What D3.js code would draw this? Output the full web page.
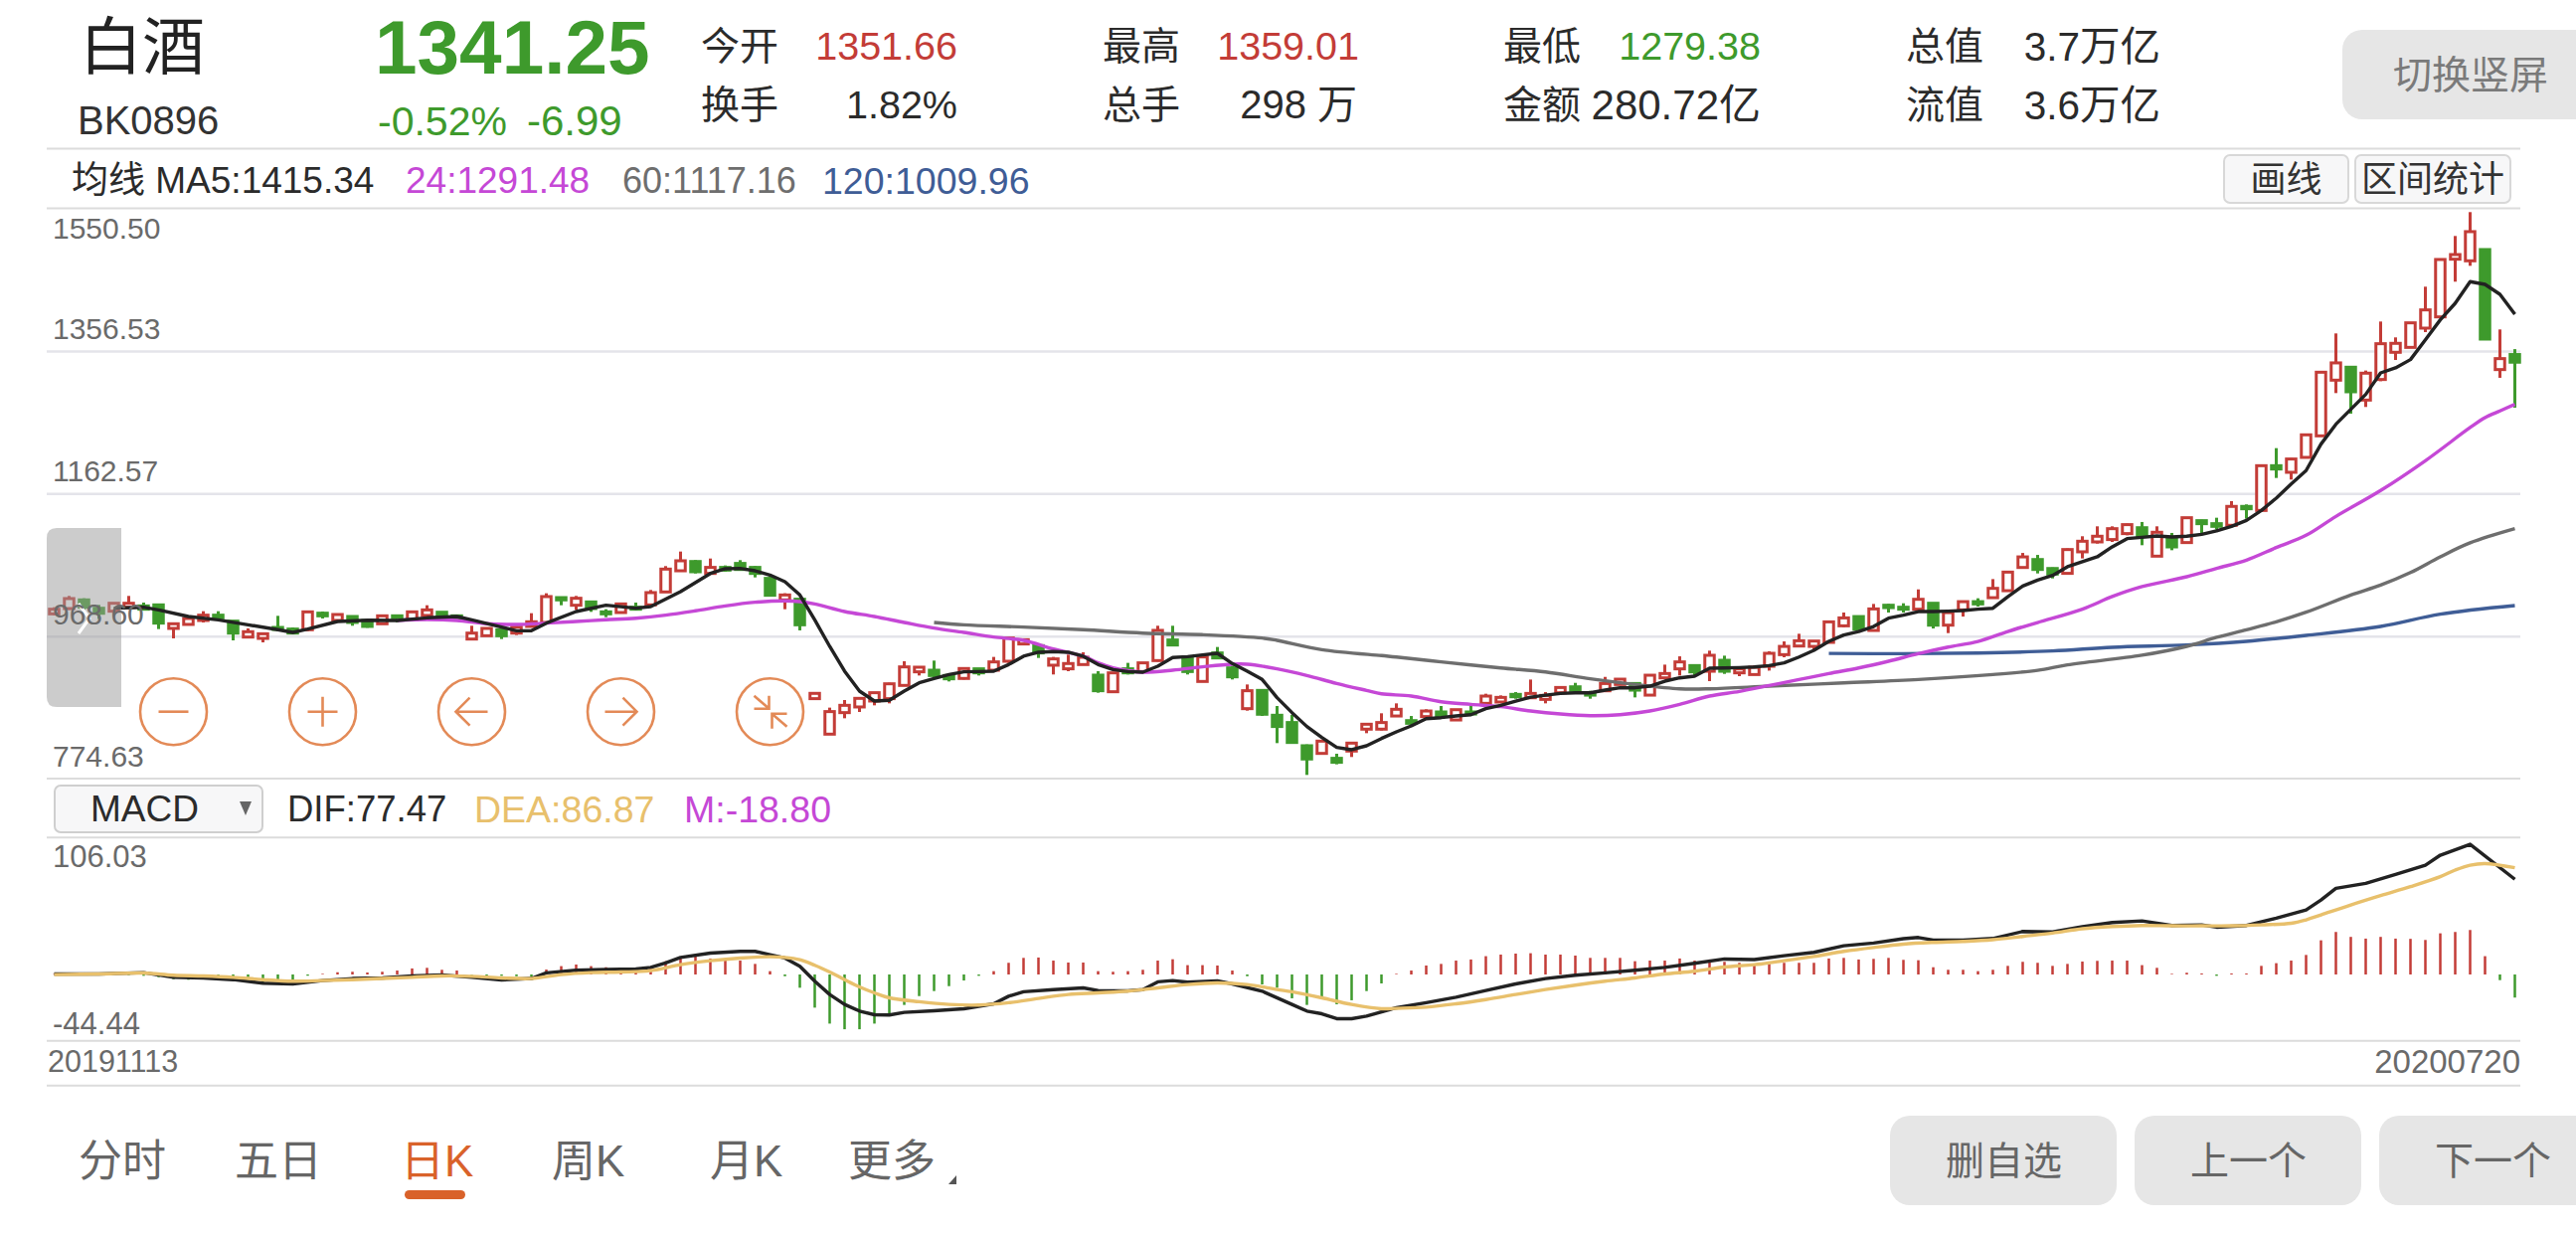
<!DOCTYPE html>
<html>
<head>
<meta charset="utf-8">
<script src="https://cdn.jsdelivr.net/npm/d3@7"></script>
<style>
  html, body { margin: 0; padding: 0; background: #fff; overflow: hidden; }
  text { font-family: "Liberation Sans", "Noto Sans CJK SC", sans-serif; }
</style>
</head>
<body>
<script>
// daily candles 20191113 - 20200720
const opens = [998.8,1006,1017.8,1006.4,1002.4,1007.8,1009.6,1011,979,984.4,989.8,997,988.9,967.2,965.4,980.3,978.1,977.2,999.7,989.8,995.2,989.8,985.3,996.1,990.7,996.6,1001,996.1,964.5,969,977.2,972.6,981.7,987.1,1020.9,1010.5,1015,1001.5,1000.6,1007.8,1011,1028.6,1057.4,1070,1053.8,1062,1067.4,1062,1047.1,1017.8,1018.7,883.4,835.1,864.4,872.1,880.2,883.4,901.4,919.9,922.1,914.9,910.9,924,922.1,934.3,957.8,955.5,928.9,924,929.8,915.4,892.8,924,920.3,935.2,963.2,939.3,906.8,945.6,925.3,869.8,894.6,860.8,850.9,819.3,808.9,802.2,812.1,841.9,841.9,859.8,853.5,859,865.3,854.4,865.3,877,878.8,889.2,884.6,882.4,891.4,899.5,890.5,894.1,902.7,904,888.2,911.7,923.9,928.4,920.7,935.6,918.5,916.2,927.5,943.3,955,954.5,960,982.5,995.1,976.2,1010.5,1007.8,1005.1,1013.2,983.4,1004.2,1015.4,1020.8,1030.3,1061.9,1072.7,1060.5,1053.9,1083.2,1096.7,1099.9,1108,1116,1077.3,1102.6,1095.8,1125.6,1121.5,1119.3,1145,1139.5,1200.4,1191.4,1211.7,1241,1316.8,1334.4,1289.7,1317.7,1354.7,1361.4,1387.6,1402.9,1481.4,1479.2,1494.5,1331.2,1351.66];
const closes = [1005.1,1019.6,1007.8,999.6,1013.2,1013.2,1005.1,986.2,985.3,992.5,997,993.4,972.6,974.5,971.7,977.6,972.6,1001.5,996.1,997.9,987.1,981.7,996.1,993.4,1001.5,1004.2,994.3,992.5,972.6,979,969,980.8,988,1022.3,1017.8,1020,1006,998.8,1012.3,1005.1,1027.7,1059.7,1071,1056.1,1062,1058.3,1059.2,1053.8,1024.1,1024.5,983.9,890.6,865.8,874.3,883.8,891.5,903.6,926.6,926.2,914.9,910.4,924.4,918.5,933.4,965.9,963.6,945.6,937.5,931.2,939.7,894.2,918.5,918.5,932.1,976.3,956.4,920.3,940.2,938.8,913.1,894.2,862.2,845.5,823.8,801.3,825.6,796.8,822.9,848.6,850.9,868.9,849.9,866.6,859.8,868.4,862.5,886.9,885.1,886,890.5,887.8,898.6,894.6,888.2,904,909.9,895,915.3,917.6,933.4,919.8,942.4,920.7,923.9,926.1,945.1,954.5,962.2,961.8,987.9,993.3,978,1005.5,1007.3,1005.1,1018.6,983.4,1000.5,1015.4,1012.3,1033.5,1055.6,1076.3,1059.2,1052.9,1086.3,1097.6,1104.4,1114.7,1120.2,1104.4,1109.8,1089.9,1129.6,1121.5,1117.9,1145,1141.8,1200.4,1195.9,1209.5,1242.4,1327.6,1340.3,1301,1326.3,1366.4,1366.9,1394.8,1412.4,1481,1487.7,1518.9,1372.7,1346.1,1341.25];
const highs = [1007.8,1023.2,1020,1011,1014.1,1023.2,1014.1,1012.3,985.3,994.3,1002.4,1002.4,989.8,979,972.6,996.1,980.3,1002.4,1002,997.9,996.1,990.7,997,997,1002.4,1010.5,1002,997,982.6,979.9,979.9,982.6,999.7,1026.8,1021.4,1023.2,1015.9,1005.1,1013.2,1014.1,1031.3,1063.8,1083.6,1071.9,1074.1,1064.7,1071.9,1063.8,1050.2,1026.8,1020,890.6,871.2,881.5,885.6,892.4,905,934.3,926.2,935.2,916.7,925.3,924.9,940.2,967.2,963.6,956.9,940.2,943.3,946.5,920.8,919.4,932.1,933,982.6,982.6,941.1,942,953.7,928.4,902.7,896,873.4,861.2,821.1,826.5,808.5,823.8,849.1,863.5,877,859.8,868.9,873.4,869.3,874.3,890.1,887.8,892.3,909.4,892.3,899.1,904.9,894.1,913,910.8,905.8,916.2,929.7,941,929.3,948.7,941.9,924.8,928.8,947.8,961.3,971.7,962.7,988.8,1000.6,996.5,1012.3,1012.3,1013.2,1032.1,1014.1,1001.4,1016.3,1020,1046.1,1056.5,1081.7,1079,1061.9,1087.7,1104.4,1117.9,1117.9,1121.5,1123.8,1117.9,1108.9,1130.5,1126.9,1129.6,1152.2,1147.7,1201.3,1224.3,1210.8,1243.3,1328.5,1380.4,1335.3,1329.9,1396.6,1375,1395.7,1444,1481.9,1513,1545.5,1495,1385.8,1359.01];
const lows = [997,1004.2,1004.2,992,1001.5,1006.5,1003.3,978.1,965.4,983.5,987.1,989.8,962.7,966.3,960,974.9,970.9,975.4,992.5,988.9,982.6,979.9,984.4,987.1,989.8,996.1,992.5,990.7,964.5,968.1,964.5,970,980.8,986.2,1010.5,1004.2,1001.5,994.3,999.3,1004.2,1009.6,1027.7,1056.1,1053.8,1052.9,1056.1,1058.3,1048.4,1023.2,1005.1,976.3,883.4,834.2,856.7,865.3,874.3,877,900.5,914.9,910.4,906.8,909.5,914.9,920.8,932.1,957.3,938.8,916.3,920.8,928.9,891.5,891.9,916.3,918.5,933.9,955.5,916.3,905.9,937.5,909.5,867.1,859.9,822.9,822.9,779.6,808,794.1,804,836.4,840.1,858.9,846.3,856.2,857.1,853.1,859.8,875.6,877.9,883.3,883.7,877,890.5,893.7,883.3,893.2,902.2,885.1,887.3,910.8,914.9,915.3,907.2,917.1,914,915.3,921.6,939.7,954.5,949.1,959.1,980.7,976.2,975.3,1000.6,1000.6,1004.2,978.9,972.6,995.1,1008.7,1020,1029.4,1061,1053.8,1047,1053,1074.2,1094.4,1096.7,1105.7,1092.2,1076.4,1085.4,1094.9,1108,1113.4,1117.9,1128.3,1138.6,1183.7,1181.5,1210.8,1240.1,1299.2,1271.2,1280.3,1315.4,1344.3,1360.5,1382.2,1402,1450.8,1472.4,1371.8,1320,1279.38];

// moving averages: day index + value pairs
const ma5Days = [4,6,7,9,11,13,15,16,17,19,21,23,25,27,28,30,31,32,33,35,37,39,40,42,44,45,46,47,48,49,50,51,52,53,54,55,56,57,58,59,60,61,62,63,64,65,66,67,68,69,70,71,72,73,74,75,76,77,78,79,80,81,82,83,84,85,86,87,88,89,90,91,92,93,94,95,96,97,98,99,100,101,102,103,104,105,106,107,108,109,110,111,112,113,114,115,116,117,118,119,120,121,122,123,124,125,126,127,128,129,130,131,132,133,134,135,137,138,139,140,141,142,143,144,145,146,147,148,149,150,151,152,153,154,155,156,157,158,159,160,161,162,163,164,165];
const ma5 = [1006.5,1007.8,1004.2,995.2,990.7,983.9,977.2,973.5,978.1,988.4,990.2,989.8,993.4,995.2,990.7,980.8,975.8,975.8,986.2,1002,1010.5,1006.5,1008.7,1029,1053.8,1060.2,1060.6,1057.4,1051.6,1042.6,1024.5,990.7,954.6,920.8,893.7,880.2,881.1,893.7,905,910.9,916.3,919.9,920.3,920.8,929.8,941.1,946.5,947.4,946.5,941.1,929.8,923,920.3,919.4,927.5,939.3,940.6,942.9,945.1,931.2,920.8,909.5,884.7,864.4,845.5,830.6,817.1,813.9,819.3,829.2,838.2,846.3,856.2,857.6,859.8,861.6,869.8,874.3,880.1,885.5,888.2,890.5,891.4,891.4,895,898.2,898.2,900.4,907.2,911.7,914,924.8,925.2,925.7,926.6,928.4,932,940.1,949.1,961.3,969.9,974.8,981.6,992.9,997,1001.9,1001.9,1002.4,1003.3,1005.1,1006.4,1022.2,1036.6,1044.8,1051.1,1062.9,1076.4,1090,1101.2,1103,1104.8,1103.5,1104.4,1107,1111.6,1117.9,1126,1139.5,1156.2,1175.6,1193.7,1229.8,1256.8,1277.1,1297.4,1326.7,1333.5,1344.8,1371.8,1398.9,1421.4,1450.8,1447.1,1433.6,1406.5];
const ma24Days = [23,25,27,29,31,33,35,37,39,41,43,45,47,49,50,51,53,55,57,59,61,63,65,67,69,70,71,72,73,75,77,79,80,82,84,86,88,89,91,93,95,97,99,101,103,105,107,109,111,113,115,117,119,121,123,125,127,129,131,133,136,138,140,143,145,147,149,151,153,156,159,162,163,164,165];
const ma24 = [989.8,991.1,989.8,985.3,984.4,986.2,988.4,990.7,992.9,997,1002.9,1009.6,1014.6,1016.4,1015.5,1012.3,1002,995.2,987.1,979.4,973.5,967.2,962.7,951,941.1,932.1,925.3,921.7,919.4,922.1,926.7,930.3,930.3,924,914.9,904.1,894.6,890,886.9,879.2,875.6,872.5,866.6,862.5,860.3,861.6,866.6,875.6,886.9,893.2,901.3,909.4,917.6,925.2,934.3,944.6,953.6,961.3,974.8,987,1005.2,1022.3,1035.8,1049.3,1060.6,1071.9,1089,1105.7,1131.4,1166.6,1207.2,1252.3,1265.8,1274.9,1283.9];
const ma60Days = [59,61,65,69,73,77,81,82,85,89,90,93,97,100,103,106,109,111,115,120,125,130,133,135,140,143,145,147,149,151,154,156,158,160,162,165];
const ma60 = [987.1,983.9,980.8,977.2,972.6,970.4,965.9,962.7,950.1,942,940.1,933.4,925.2,919.8,910.4,902.7,896.8,896.8,900.4,904.9,909.4,916.2,922,929.4,942.5,954.6,966.8,977.2,988,1001,1024.5,1038,1055,1076.4,1095.4,1114.7];
const ma120Days = [119,124,129,134,138,143,147,151,156,160,165];
const ma120 = [945,944.6,945.5,948.3,953.3,956.5,961.4,969.5,981.7,998.4,1010.1];

// MACD
const macdBars = [0.3,0.5,0.3,-0.3,0.3,-0.5,-1.1,-2.2,-3.8,-4.3,-2.7,-2.2,-3.2,-4.3,-6.5,-5,-4.3,-1,0.5,1.8,2.2,1.6,2.2,3.2,4.9,5.4,3.8,3.2,-0.5,-0.8,-1.1,-1.4,-1.6,4,6.8,8.1,6.8,5.9,4.6,4.6,5.4,10.8,13.5,14.9,13,12.7,11.3,8.6,2.7,-1.4,-10.8,-27,-40,-44.6,-44.6,-40,-31.9,-24.8,-17.6,-13.5,-9.5,-4.9,-1.1,2.7,9.5,13.5,13.8,11.3,9.7,9.7,2.7,2.2,2.7,3.8,11.3,12.4,7.6,7.6,7.3,3.2,-1.4,-8.1,-10.8,-19.4,-24.8,-19.4,-24.3,-21,-13.5,-7.3,0.5,3.2,7.3,8.6,11.3,12.2,14.9,16.2,17,17.3,16.2,16.2,15.4,13.5,13.5,13.5,10.8,11.3,11.3,13,11.3,12.2,10.3,9.5,8.1,8.6,9.5,9.5,9.5,13,13.5,12.2,12.7,13.5,11.9,11.6,5.9,3.8,3.8,2.7,3.8,7,10.3,9.5,7,8.6,10.5,11.1,11.3,11.3,7.6,5.4,0.5,1.4,0.8,-1.1,0.8,0.8,7,9.2,11.3,15.9,27.8,34.6,30.6,29.2,30.6,29.2,29,28.1,33.5,34.6,36.2,14.9,-4.6,-18.8];
const difDays = [0,3,6,8,10,12,14,16,18,20,22,24,26,28,30,32,33,35,37,39,40,41,42,44,46,47,48,49,50,51,52,53,54,55,56,57,59,61,63,64,65,67,69,70,72,73,74,75,76,78,79,81,83,84,85,86,87,88,90,92,94,96,98,100,102,104,106,108,110,112,114,116,118,120,122,124,125,126,128,130,132,134,136,138,140,142,144,145,147,149,151,152,153,155,157,159,160,162,165];
const dif = [0.4,0.4,1.5,-2.3,-2.8,-4.2,-7.1,-7.7,-5,-3.3,-2.8,-1.2,-0.4,-2.3,-4.4,-3.3,1.3,3.4,4,4.5,5.8,9.4,13.9,17.4,18.8,18.8,16.1,13.4,6.7,-5.5,-16.3,-24.4,-29.8,-32.8,-33,-30.9,-29.5,-27.9,-23.9,-17.7,-14.1,-12.3,-10.9,-13.1,-13.3,-12.3,-6,-5,-6.3,-5.2,-7.7,-13.6,-24.4,-29.8,-32,-36,-36,-33.9,-27.1,-23,-18.5,-13.1,-7.7,-3.3,-0.6,1.3,3.4,5.8,9.1,12.6,12.1,15.3,18,23.4,25.6,29.1,30.1,28,28,29.3,35,34.7,39,42.3,43.6,39.9,40.4,38.5,39.9,45.8,52.5,60.6,70.1,74.2,81.4,89,97.1,106,77.47];
const deaDays = [0,3,6,8,10,12,14,16,18,20,22,24,26,28,30,32,34,36,38,40,42,44,46,48,49,50,51,52,53,54,55,56,58,60,62,64,66,68,70,72,74,76,78,80,82,83,85,87,89,90,92,94,96,98,100,102,104,106,108,110,112,114,116,118,120,122,124,126,128,130,132,134,136,138,140,142,144,146,148,150,151,152,154,156,158,160,161,162,163,165];
const dea = [-0.1,0.4,1.2,-0.6,-1.2,-2.3,-4.2,-5.5,-5,-4.2,-3.3,-2.3,-1.2,-1.5,-2.8,-3.3,-0.1,1.5,2,3.1,8,11.2,13.4,14.5,13.9,12,7.5,2,-4.2,-10.1,-15,-19,-22.2,-24.4,-24.9,-23,-19.5,-16.3,-15,-13.6,-10.9,-8.2,-6.9,-8.2,-12.3,-14.1,-19,-24.4,-27.9,-27.6,-26.6,-23.9,-20.4,-16.3,-12.3,-8.7,-5.5,-2.8,0.4,2.6,6.1,8,11.2,14.7,18.8,22,24.7,26.1,26.9,28.3,31,33.7,37.2,39,39.9,39.6,39.6,39.6,40.4,41.7,44.5,48.5,56.6,64.2,71.5,79.6,85,89,90.3,86.87];

const priceTicks = [1550.50, 1356.53, 1162.57, 968.60, 774.63];
const macdTicks = [106.03, -44.44];
const dateLabels = ["20191113", "20200720"];

const RED = "#c33c37", GREEN = "#3e9a2c", BLACK = "#222222", GREY_TEXT = "#6a6a6a", TEXT = "#2b2b2b";
const MAGENTA = "#c548d6", GREY = "#6e6e6e", BLUE = "#3f5d96", GOLD = "#e8c06c", ORANGE = "#e38a57", TAB = "#d9622a";
const LEFT = 47, RIGHT = 2535;

const svg = d3.select("body").append("svg").attr("width", 2591).attr("height", 1242).style("display", "block");

const x = d3.scaleLinear().domain([0, opens.length - 1]).range([54.5, 2529.5]);
const y = d3.scaleLinear().domain([774.63, 1550.50]).range([783, 209.6]);
const yMacd = d3.scaleLinear().domain([-44.44, 106.03]).range([1034.9, 849]);

function label(text, px, cy, size, fill, anchor) {
  return svg.append("text").text(text)
    .attr("x", px).attr("y", cy + size * 0.36)
    .attr("font-size", size).attr("fill", fill || TEXT)
    .attr("text-anchor", anchor || "start");
}

// ------- header -------
label("白酒", 80, 46, 63, "#222");
label("BK0896", 78, 121, 40, "#333");
label("1341.25", 377, 46, 76.5, GREEN).attr("font-weight", "bold");
label("-0.52%", 380, 121, 41, GREEN);
label("-6.99", 530, 121, 42, GREEN);

label("今开", 705, 46, 39);
label("1351.66", 963, 46, 39.5, RED, "end");
label("换手", 705, 105, 39);
label("1.82%", 963, 105, 39.5, TEXT, "end");
label("最高", 1109, 46, 39);
label("1359.01", 1367, 46, 39.5, RED, "end");
label("总手", 1109, 105, 39);
label("298 万", 1365, 105, 40, TEXT, "end");
label("最低", 1512, 46, 39);
label("1279.38", 1771, 46, 39.5, GREEN, "end");
label("金额", 1512, 105, 39);
label("280.72亿", 1771, 105, 42, TEXT, "end");
label("总值", 1917, 46, 39);
label("3.7万亿", 2173, 46, 40.5, TEXT, "end");
label("流值", 1917, 105, 39);
label("3.6万亿", 2173, 105, 40.5, TEXT, "end");

svg.append("rect").attr("x", 2356).attr("y", 30).attr("width", 260).attr("height", 90).attr("rx", 20).attr("fill", "#e6e6e6");
label("切换竖屏", 2407, 75, 39, "#7a7a7a");

// ------- separators -------
[149.5, 209.5, 783, 842.3, 1046.7, 1091.7].forEach(ly => {
  svg.append("line").attr("x1", LEFT).attr("x2", RIGHT).attr("y1", ly).attr("y2", ly)
    .attr("stroke", "#dcdcdc").attr("stroke-width", 2);
});

// ------- MA legend + tool buttons -------
label("均线 MA5:1415.34", 72, 181, 37);
label("24:1291.48", 408, 181, 37, MAGENTA);
label("60:1117.16", 626, 181, 36, GREY);
label("120:1009.96", 827, 181, 37.5, BLUE);

[[2237, 125, "画线"], [2369, 156, "区间统计"]].forEach(b => {
  svg.append("rect").attr("x", b[0]).attr("y", 156).attr("width", b[1]).attr("height", 48).attr("rx", 6)
    .attr("fill", "#f7f7f8").attr("stroke", "#d8d8d8").attr("stroke-width", 2);
  label(b[2], b[0] + b[1] / 2, 180, 36, "#333", "middle");
});

// ------- price grid -------
const priceGrid = svg.append("g").attr("transform", `translate(${LEFT},0)`)
  .call(d3.axisRight(y).tickValues(priceTicks.slice(1, 4)).tickSize(RIGHT - LEFT).tickFormat(""));
priceGrid.select(".domain").remove();
priceGrid.selectAll("line").attr("stroke", "#e4e4ea").attr("stroke-width", 2.5);

// ------- candles -------
const candles = d3.range(opens.length);
const up = i => closes[i] >= opens[i];
const bodyW = 9.5;

svg.append("g").selectAll("line").data(candles).join("line")
  .attr("x1", i => x(i)).attr("x2", i => x(i))
  .attr("y1", i => y(highs[i])).attr("y2", i => y(lows[i]))
  .attr("stroke", i => up(i) ? RED : GREEN).attr("stroke-width", 3);

svg.append("g").selectAll("rect").data(candles).join("rect")
  .attr("x", i => x(i) - bodyW / 2).attr("width", bodyW)
  .attr("y", i => y(Math.max(opens[i], closes[i])))
  .attr("height", i => Math.abs(y(opens[i]) - y(closes[i])))
  .attr("fill", i => up(i) ? "#fff" : GREEN)
  .attr("stroke", i => up(i) ? RED : GREEN).attr("stroke-width", 3);

// ------- moving averages -------
function curve(days, values, scale, color, width, shape) {
  const line = d3.line().x(d => x(d[0])).y(d => scale(d[1])).curve(shape);
  svg.append("path").datum(d3.zip(days, values)).attr("d", line)
    .attr("fill", "none").attr("stroke", color).attr("stroke-width", width).attr("stroke-linejoin", "round");
}
curve(ma120Days, ma120, y, BLUE, 3.4, d3.curveCatmullRom);
curve(ma60Days, ma60, y, GREY, 3.4, d3.curveCatmullRom);
curve(ma24Days, ma24, y, MAGENTA, 3.4, d3.curveCatmullRom);
curve(ma5Days, ma5, y, BLACK, 3.4, d3.curveLinear);

// ------- MACD -------
svg.append("rect").attr("x", 55).attr("y", 790).attr("width", 209).attr("height", 47).attr("rx", 6)
  .attr("fill", "#f7f7f8").attr("stroke", "#cfcfcf").attr("stroke-width", 2);
label("MACD", 91, 813, 37);
svg.append("path").attr("d", "M241 806 L253 806 L247 820 Z").attr("fill", "#666");
label("DIF:77.47", 289, 813, 36.5);
label("DEA:86.87", 477, 813, 37.5, GOLD);
label("M:-18.80", 688, 813, 37.5, MAGENTA);

svg.append("g").selectAll("line").data(macdBars).join("line")
  .attr("x1", (d, i) => x(i)).attr("x2", (d, i) => x(i))
  .attr("y1", yMacd(0)).attr("y2", d => yMacd(d))
  .attr("stroke", d => d >= 0 ? RED : GREEN).attr("stroke-width", 2.5);

curve(difDays, dif, yMacd, BLACK, 3.4, d3.curveLinear);
curve(deaDays, dea, yMacd, GOLD, 3.4, d3.curveCatmullRom);

// ------- overview handle, drawn over the candles -------
svg.append("path").attr("d", "M122 531 H57 Q47 531 47 541 V701 Q47 711 57 711 H122 Z").attr("fill", "#999").attr("opacity", 0.5);
svg.append("path").attr("d", "M79 607 L90 622 L79 637").attr("fill", "none").attr("stroke", "#fff").attr("stroke-width", 3);

// ------- axis labels -------
const priceAxis = svg.append("g").attr("transform", `translate(${LEFT},0)`)
  .call(d3.axisRight(y).tickValues(priceTicks).tickSize(0).tickFormat(d => d.toFixed(2)));
priceAxis.select(".domain").remove();
priceAxis.selectAll("text").attr("x", 6).attr("font-size", 30).attr("fill", GREY_TEXT)
  .attr("font-family", null).attr("dy", "0.32em")
  .attr("transform", d => `translate(0,${d === 1550.50 ? 20 : -22})`);

const macdAxis = svg.append("g").attr("transform", `translate(${LEFT},0)`)
  .call(d3.axisRight(yMacd).tickValues(macdTicks).tickSize(0).tickFormat(d => d.toFixed(2)));
macdAxis.select(".domain").remove();
macdAxis.selectAll("text").attr("x", 6).attr("font-size", 31).attr("fill", GREY_TEXT)
  .attr("font-family", null).attr("dy", "0.32em")
  .attr("transform", d => `translate(0,${d > 0 ? 13 : -5})`);

label(dateLabels[0], 48, 1067, 30.5, GREY_TEXT);
label(dateLabels[1], 2535, 1067, 33, GREY_TEXT, "end");

// ------- zoom/pan buttons -------
const iconPaths = [
  "M-15 0 H15",
  "M-15 0 H15 M0 -15 V15",
  "M16 0 H-16 M-2 -14 L-16 0 L-2 14",
  "M-16 0 H16 M2 -14 L16 0 L2 14",
  "M-16 -16 L-2 -4 M-1 -16 V-3 H-16 M17 15 L3 3 M2 17 V2 H17"
];
iconPaths.forEach((p, k) => {
  const g = svg.append("g").attr("transform", `translate(${174.5 + 150 * k},715.7)`)
    .attr("fill", "none").attr("stroke", ORANGE).attr("stroke-width", 2.6);
  g.append("circle").attr("r", 33.5);
  g.append("path").attr("d", p);
});

// ------- bottom tabs -------
[["分时", 79], ["五日", 236], ["周K", 555], ["月K", 714], ["更多", 853]].forEach(t => label(t[0], t[1], 1167, 44, "#666"));
label("日K", 403, 1167, 44, TAB);
svg.append("rect").attr("x", 407).attr("y", 1197).attr("width", 61).attr("height", 9).attr("rx", 4.5).attr("fill", TAB);
svg.append("path").attr("d", "M954 1191 L962 1191 L962 1182 Z").attr("fill", "#555");

[[1901, 228, "删自选"], [2147, 228, "上一个"], [2393, 240, "下一个"]].forEach(b => {
  svg.append("rect").attr("x", b[0]).attr("y", 1122).attr("width", b[1]).attr("height", 90).attr("rx", 20).attr("fill", "#e6e6e6");
  label(b[2], b[0] + 56, 1167, 39, "#666");
});
</script>
</body>
</html>
